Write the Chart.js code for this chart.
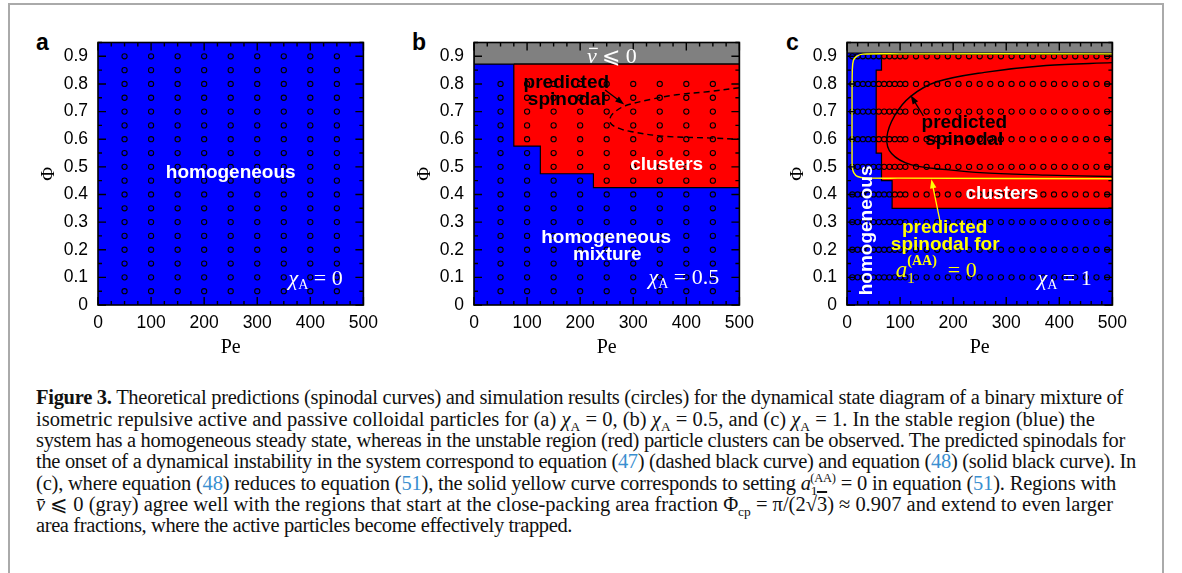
<!DOCTYPE html>
<html>
<head>
<meta charset="utf-8">
<script src="https://cdn.jsdelivr.net/npm/chart.js@4.4.1/dist/chart.umd.min.js"></script>
<style>
  body { margin: 0; background: #fff; width: 1182px; height: 573px; overflow: hidden; position: relative; }
  #box { position: absolute; left: 8px; top: 3px; width: 1156px; height: 620px; border: 2px solid #aaa; box-sizing: border-box; }
  .panel { position: absolute; top: 22px; }
  .lbl { position: absolute; font: bold 23px "Liberation Sans", sans-serif; line-height: 1; }
  .cap { position: absolute; left: 36px; font: 20.5px "Liberation Serif", serif; line-height: 1; white-space: nowrap; color: #111; }
  .cap .ref { color: #3a8fd0; }
  .cap .sb { font-size: 13.5px; position: relative; top: 5px; }
  .cap .sp { font-size: 12.5px; position: relative; top: -8px; }
</style>
</head>
<body>
<div id="box"></div>

<div class="lbl" style="left:36px;top:31px">a</div>
<div class="lbl" style="left:412px;top:31px">b</div>
<div class="lbl" style="left:786px;top:31px">c</div>

<canvas id="chartA" class="panel" width="348" height="338" style="left:38px"></canvas>
<canvas id="chartB" class="panel" width="348" height="338" style="left:414px"></canvas>
<canvas id="chartC" class="panel" width="348" height="338" style="left:787px"></canvas>

<div class="cap" data-end="1123" style="top:387px"><b>Figure 3.</b> Theoretical predictions (spinodal curves) and simulation results (circles) for the dynamical state diagram of a binary mixture of</div>
<div class="cap" data-end="1095" style="top:408.5px">isometric repulsive active and passive colloidal particles for (a) <i>χ</i><span class="sb">A</span> = 0, (b) <i>χ</i><span class="sb">A</span> = 0.5, and (c) <i>χ</i><span class="sb">A</span> = 1. In the stable region (blue) the</div>
<div class="cap" data-end="1125" style="top:430px">system has a homogeneous steady state, whereas in the unstable region (red) particle clusters can be observed. The predicted spinodals for</div>
<div class="cap" data-end="1136" style="top:451px">the onset of a dynamical instability in the system correspond to equation (<span class="ref">47</span>) (dashed black curve) and equation (<span class="ref">48</span>) (solid black curve). In</div>
<div class="cap" data-end="1116" style="top:472.5px">(c), where equation (<span class="ref">48</span>) reduces to equation (<span class="ref">51</span>), the solid yellow curve corresponds to setting <i>a</i><span class="sb">1</span><span class="sp" style="margin-left:-7px">(AA)</span> = 0 in equation (<span class="ref">51</span>). Regions with</div>
<div class="cap" data-end="1113" style="top:494px"><i>v̄</i> ⩽ 0 (gray) agree well with the regions that start at the close-packing area fraction Φ<span class="sb">cp</span> = π/(2√<span style="text-decoration:overline">3</span>) ≈ 0.907 and extend to even larger</div>
<div class="cap" data-end="572" style="top:515px">area fractions, where the active particles become effectively trapped.</div>

<script>
// axis ticks
const xTicks = [0, 100, 200, 300, 400, 500];
const yTicks = [0, 0.1, 0.2, 0.3, 0.4, 0.5, 0.6, 0.7, 0.8, 0.9];
const yTickLabels = ['0', '0.1', '0.2', '0.3', '0.4', '0.5', '0.6', '0.7', '0.8', '0.9'];

// simulation grid (circles)
const peAB = [50, 100, 150, 200, 250, 300, 350, 400, 450];
const phiA = [0.05, 0.1, 0.15, 0.2, 0.25, 0.3, 0.35, 0.4, 0.45, 0.5, 0.55, 0.6, 0.65, 0.7, 0.75, 0.8, 0.85, 0.9];
const phiB = [0.05, 0.1, 0.15, 0.2, 0.25, 0.3, 0.35, 0.4, 0.45, 0.5, 0.55, 0.6, 0.65, 0.7, 0.75, 0.8];
const peC = [10, 20, 30, 40, 50, 60, 70, 80, 90, 100, 110, 130, 150, 170, 190, 210, 230, 250, 270, 290, 310, 330, 350, 370, 390, 410, 430, 450, 470, 490];
const phiC = [0.1, 0.2, 0.3, 0.4, 0.5, 0.6, 0.7, 0.8, 0.9];

// regions [Pe, Phi]
const grayB = [[0, 0.872], [500, 0.872], [500, 0.95], [0, 0.95], [0, 0.872]];
const redB = [[75, 0.872], [500, 0.872], [500, 0.425], [225, 0.425], [225, 0.475], [125, 0.475], [125, 0.575], [75, 0.575], [75, 0.872]];
const grayC = [[0, 0.912], [500, 0.912], [500, 0.95], [0, 0.95], [0, 0.912]];
const redC = [[65, 0.907], [500, 0.907], [500, 0.35], [85, 0.35], [85, 0.45], [65, 0.45], [65, 0.55], [55, 0.55], [55, 0.85], [65, 0.85], [65, 0.907]];

// predicted spinodals
const spinB = [[500, 0.786], [440, 0.772], [382, 0.761], [333, 0.744], [285, 0.721], [264, 0.697], [256, 0.675], [259, 0.654], [275, 0.638], [295, 0.628], [355, 0.611], [449, 0.604], [500, 0.6]];
const spinC = [[500, 0.877], [375, 0.867], [259, 0.842], [168, 0.807], [120, 0.755], [90, 0.686], [75, 0.605], [84, 0.548], [120, 0.508], [187, 0.49], [259, 0.478], [375, 0.47], [500, 0.465]];
const spinC0 = [[500, 0.909], [100, 0.909], [30, 0.908], [18, 0.9], [12, 0.885], [10, 0.85], [9.5, 0.7], [9.5, 0.55], [10, 0.5], [13, 0.478], [20, 0.465], [35, 0.46], [100, 0.459], [500, 0.457]];

const BLUE = '#0000ff', RED = '#ff0000', GRAY = '#808080', YEL = '#ffff00';
const SANS = '"Liberation Sans", Arial, sans-serif';
const SERIF = '"Liberation Serif", "DejaVu Serif", serif';

Chart.defaults.color = '#000';
Chart.defaults.font.family = SANS;

function gridPts(xs, ys) {
    const pts = [];
    ys.forEach(y => xs.forEach(x => pts.push({x: x, y: y})));
    return pts;
}
function pairs(arr) { return arr.map(p => ({x: p[0], y: p[1]})); }

function region(arr, color, order) {
    return { type: 'line', data: pairs(arr), fill: 'shape', backgroundColor: color, borderColor: '#000',
        borderWidth: 1.2, pointRadius: 0, tension: 0, order: order };
}
function circles(pts) {
    return { type: 'scatter', data: pts, pointRadius: 2.6, borderWidth: 1.1, borderColor: '#000',
        backgroundColor: 'rgba(0,0,0,0)', order: 2 };
}
function curve(arr, color, dash) {
    return { type: 'line', data: pairs(arr), fill: false, borderColor: color, borderWidth: 1.4,
        borderDash: dash || [], pointRadius: 0, tension: 0.35, order: 1 };
}

function text(chart, s, pe, phi, color, font) {
    const {ctx, scales: {x, y}} = chart;
    ctx.save();
    ctx.fillStyle = color;
    ctx.font = font || ('bold 19px ' + SANS);
    ctx.textAlign = 'center';
    ctx.textBaseline = 'middle';
    ctx.fillText(s, x.getPixelForValue(pe), y.getPixelForValue(phi));
    ctx.restore();
}

// math-ish label: parts drawn left to right, right edge at pe (or left edge)
function mathLabel(chart, parts, pe, phi, color, alignLeft) {
    const {ctx, scales: {x, y}} = chart;
    ctx.save();
    ctx.fillStyle = color;
    ctx.textBaseline = 'alphabetic';
    ctx.textAlign = 'left';
    let total = 0;
    parts.forEach(p => { ctx.font = p.f; p.w = ctx.measureText(p.t).width; if (!p.stack) total += p.w; });
    let px = alignLeft ? x.getPixelForValue(pe) : x.getPixelForValue(pe) - total;
    const base = y.getPixelForValue(phi) + 7;
    let lastX = px;
    parts.forEach(p => {
        ctx.font = p.f;
        if (p.stack) {
            ctx.fillText(p.t, lastX, base + (p.dy || 0));
            return;
        }
        lastX = px;
        ctx.fillText(p.t, px, base + (p.dy || 0));
        if (p.bar) {
            ctx.fillRect(px + 2, base - 15, p.w - 1, 1.3);
        }
        px += p.w;
    });
    ctx.restore();
}
function chiLabel(chart, val, pe, phi) {
    mathLabel(chart, [
        {t: 'χ', f: 'italic 22px ' + SERIF},
        {t: 'A', f: '14px ' + SERIF, dy: 4},
        {t: ' = ' + val, f: '22px ' + SERIF}
    ], pe, phi, '#fff');
}

function arrow(chart, from, to, color) {
    const {ctx, scales: {x, y}} = chart;
    const x0 = x.getPixelForValue(from[0]), y0 = y.getPixelForValue(from[1]);
    const x1 = x.getPixelForValue(to[0]), y1 = y.getPixelForValue(to[1]);
    const ang = Math.atan2(y1 - y0, x1 - x0);
    ctx.save();
    ctx.strokeStyle = color; ctx.fillStyle = color; ctx.lineWidth = 1.3;
    ctx.beginPath(); ctx.moveTo(x0, y0); ctx.lineTo(x1 - 6 * Math.cos(ang), y1 - 6 * Math.sin(ang)); ctx.stroke();
    ctx.beginPath();
    ctx.moveTo(x1, y1);
    ctx.lineTo(x1 - 9 * Math.cos(ang) + 3.2 * Math.sin(ang), y1 - 9 * Math.sin(ang) - 3.2 * Math.cos(ang));
    ctx.lineTo(x1 - 9 * Math.cos(ang) - 3.2 * Math.sin(ang), y1 - 9 * Math.sin(ang) + 3.2 * Math.cos(ang));
    ctx.closePath(); ctx.fill();
    ctx.restore();
}

function drawFrame(chart, xMinor) {
    const {ctx, chartArea: a, scales: {x, y}} = chart;
    ctx.save();
    ctx.strokeStyle = '#000';
    ctx.lineWidth = 1.4;
    ctx.beginPath();
    for (let v = 0; v <= 500; v += xMinor) {
        const px = x.getPixelForValue(v);
        const len = v % 100 === 0 ? 8 : 4;
        ctx.moveTo(px, a.bottom); ctx.lineTo(px, a.bottom - len);
        ctx.moveTo(px, a.top); ctx.lineTo(px, a.top + len);
    }
    for (let i = 0; i <= 19; i++) {
        const py = y.getPixelForValue(i * 0.05);
        const len = i % 2 === 0 ? 8 : 4;
        ctx.moveTo(a.left, py); ctx.lineTo(a.left + len, py);
        ctx.moveTo(a.right, py); ctx.lineTo(a.right - len, py);
    }
    ctx.stroke();
    ctx.lineWidth = 1.6;
    ctx.strokeRect(a.left, a.top, a.width, a.height);
    ctx.restore();
}

const bgPlugin = {
    id: 'bg',
    beforeDatasetsDraw(chart) {
        const {ctx, chartArea: a} = chart;
        ctx.save();
        ctx.fillStyle = BLUE;
        ctx.fillRect(a.left, a.top, a.width, a.height);
        ctx.restore();
    }
};

function makePanel(id, datasets, xMinor, deco) {
    return new Chart(document.getElementById(id), {
        type: 'scatter',
        data: { datasets: datasets },
        options: {
            responsive: false,
            animation: false,
            devicePixelRatio: 1,
            layout: { padding: { top: 8, right: 12, left: 0, bottom: 0 } },
            plugins: { legend: { display: false }, tooltip: { enabled: false } },
            scales: {
                x: {
                    type: 'linear', min: 0, max: 500,
                    afterFit: s => { s.height = 55; },
                    afterBuildTicks: s => { s.ticks = xTicks.map(v => ({value: v})); },
                    ticks: { padding: 8, font: { size: 17.5 }, color: '#000', maxRotation: 0 },
                    grid: { display: false, drawTicks: false },
                    border: { display: false },
                    title: { display: true, text: 'Pe', color: '#000', padding: 0, font: { family: SERIF, size: 20 } }
                },
                y: {
                    type: 'linear', min: 0, max: 0.95,
                    afterFit: s => { s.width = 60; },
                    afterBuildTicks: s => { s.ticks = yTicks.map(v => ({value: v})); },
                    ticks: { padding: 10, font: { size: 17.5 }, color: '#000', callback: (v, i) => yTickLabels[i] },
                    grid: { display: false, drawTicks: false },
                    border: { display: false },
                    title: { display: true, text: 'Φ', color: '#000', padding: 0, font: { family: SERIF, size: 19 } }
                }
            }
        },
        plugins: [bgPlugin, {
            id: 'deco',
            afterDatasetsDraw(chart) {
                drawFrame(chart, xMinor);
                deco(chart);
            }
        }]
    });
}

// panel a
makePanel('chartA', [circles(gridPts(peAB, phiA))], 25, chart => {
    text(chart, 'homogeneous', 250, 0.478, '#fff');
    chiLabel(chart, '0', 461, 0.097);
});

// panel b
makePanel('chartB', [
    curve(spinB, '#000', [6, 4]),
    circles(gridPts(peAB, phiB)),
    region(redB, RED, 4),
    region(grayB, GRAY, 5)
], 25, chart => {
    text(chart, 'predicted', 174, 0.806, '#000');
    text(chart, 'spinodal', 175, 0.743, '#000');
    arrow(chart, [247, 0.778], [283, 0.726], '#000');
    text(chart, 'clusters', 363, 0.509, '#fff');
    text(chart, 'homogeneous', 249, 0.243, '#fff');
    text(chart, 'mixture', 251, 0.181, '#fff');
    chiLabel(chart, '0.5', 462, 0.1);
    mathLabel(chart, [
        {t: 'v', f: 'italic 22px ' + SERIF, bar: true},
        {t: ' ⩽ 0', f: '22px ' + SERIF}
    ], 213, 0.902, '#fff', true);
});

// panel c
makePanel('chartC', [
    curve(spinC0, YEL),
    curve(spinC, '#000'),
    circles(gridPts(peC, phiC)),
    region(redC, RED, 4),
    region(grayC, GRAY, 5)
], 20, chart => {
    text(chart, 'predicted', 221, 0.66, '#000');
    text(chart, 'spinodal', 221, 0.598, '#000');
    arrow(chart, [144, 0.684], [120, 0.759], '#000');
    text(chart, 'clusters', 292, 0.404, '#fff');
    text(chart, 'predicted', 184, 0.28, YEL);
    text(chart, 'spinodal for', 185, 0.218, YEL);
    arrow(chart, [175, 0.305], [159, 0.455], YEL);
    mathLabel(chart, [
        {t: 'a', f: 'italic 23px ' + SERIF},
        {t: '1', f: '15px ' + SERIF, dy: 6},
        {t: '(AA)', f: 'bold 14px ' + SERIF, dy: -12, stack: true},
        {t: '      = 0', f: '22px ' + SERIF}
    ], 92, 0.128, YEL, true);
    chiLabel(chart, '1', 461, 0.098);
    // rotated label
    const {ctx, scales: {x, y}} = chart;
    ctx.save();
    ctx.translate(x.getPixelForValue(38), y.getPixelForValue(0.27));
    ctx.rotate(-Math.PI / 2);
    ctx.fillStyle = '#fff';
    ctx.font = 'bold 19px ' + SANS;
    ctx.textAlign = 'center';
    ctx.textBaseline = 'middle';
    ctx.fillText('homogeneous', 0, 0);
    ctx.restore();
});

// stretch caption lines to their measured right ends
document.querySelectorAll('.cap').forEach(el => {
    const target = parseFloat(el.dataset.end) - 36;
    const w = el.getBoundingClientRect().width;
    const n = el.textContent.length;
    if (n > 1) el.style.letterSpacing = ((target - w) / n).toFixed(3) + 'px';
});
</script>
</body>
</html>
